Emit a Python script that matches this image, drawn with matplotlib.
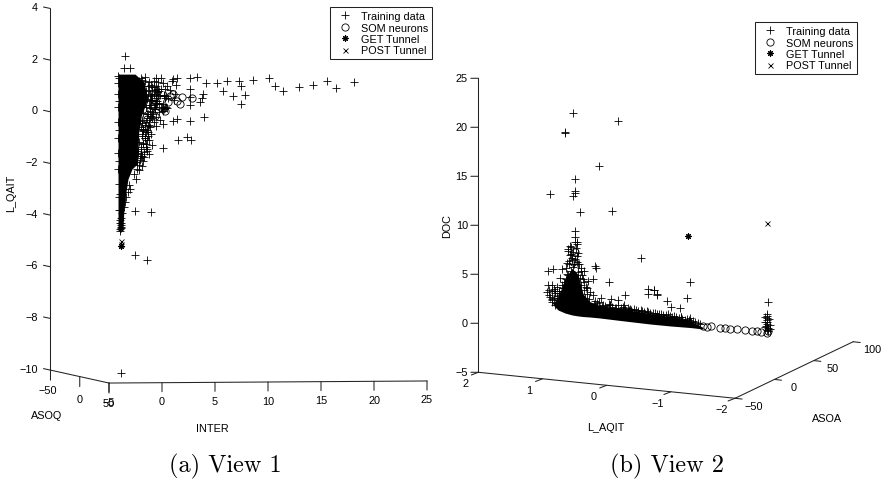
"""Two views of the SOM training data, with hand-drawn 3D style axes."""
import matplotlib
matplotlib.use("Agg")
import matplotlib.pyplot as plt
import numpy as np

# ── View 1 data (INTER, L_QAIT) ──────────────────────────────────────────────
train1_x = [-3.49, -3.58, -3.02, -2.01, -1.60, -0.57, -0.09, 1.07, 1.38, 2.64, 3.33, 4.12,
            5.22, 6.10, 7.23, 8.55, 10.13, 10.69, 11.45, 12.96, 14.21, 15.57, 16.38, 18.14,
            7.42, 5.79, 6.73, 7.83, 7.42, 3.90, 3.74, 3.58, 2.64, 2.64, 2.64, 3.96, 2.64,
            1.38, 1.07, 0.06, -0.57, 1.48, 2.33, 2.74, 0.06, -0.97, -1.23, -1.92, -1.45,
            -1.29, -1.29, -1.76, -2.55, -1.04, -2.55, -1.45, -3.87]
train1_y = [2.15, 1.70, 1.70, 1.30, 1.34, 1.30, 1.31, 1.27, 1.30, 1.30, 1.34, 1.10,
            1.10, 1.18, 1.21, 1.25, 1.32, 1.01, 0.79, 0.95, 1.04, 1.19, 0.94, 1.17,
            0.99, 0.79, 0.60, 0.66, 0.29, 0.69, 0.54, 0.37, 0.88, 0.56, 0.26, -0.21, -0.34,
            -0.28, -0.34, -0.47, -0.56, -1.08, -0.96, -1.08, -1.40, -1.27, -1.63, -1.70, -1.50,
            -0.92, -0.79, -0.66, -3.85, -3.88, -5.53, -5.74, -10.11]
# points around the dense column
fringe1_x = [-2.2, -1.9, -1.6, -1.2, -0.8, -0.4, 0.1, 0.5, 0.9, 1.3, -2.0, -1.7, -1.3, -0.9,
             -0.5, -0.1, 0.3, 0.8, 1.2, -1.9, -1.5, -1.1, -0.6, -0.2, 0.2, 0.6, 1.1, -1.8,
             -1.4, -1.0, -0.6, -0.3, 0.1, 0.4, -1.9, -1.5, -1.1, -0.7, -0.3, 0.0, -1.8, -1.4,
             -1.0, -0.6, -0.2, -1.9, -1.5, -1.2, -0.8, -1.8, -1.4, -1.0, -1.9, -1.6, -1.2,
             -1.8, -1.5, -2.0, -1.7, -1.4, -2.0, -1.7, -2.1, -1.8, -2.2, -1.9, -2.4, -2.2,
             -2.6, -2.5, -3.1, -3.0, -3.2, -3.4, -3.5, -3.6, -3.8, -3.87, -3.87, -3.87, -3.9,
             -4.0, -3.95, -3.9, -4.0, -3.95, 0.2, 0.3, 0.35, 0.2, 0.45, -0.1, 0.1, 0.25,
             -1.0, -0.75, -0.55, -0.35, -1.2, -0.95, -0.7, -0.5, -0.25, -1.3, -1.05, -0.8,
             -0.6, -0.4, -1.1, -0.9, -0.65, -0.45, -1.25, -1.0, -0.8, -0.55, -1.15, -0.95,
             -0.7, -1.3, -1.1, -0.85, -1.45, -1.2, -0.95, -1.6, -1.35, -1.1, -1.75, -1.5,
             -1.65, -1.4, -1.75, -1.55, -1.85, -1.65, -1.95, -1.75, -2.05, -1.85, -1.95,
             -2.15, -2.0, -2.3, -2.1, -2.4, -2.25, -4.15, -4.15, -4.15, -4.15, -4.15, -4.15,
             -4.15, -4.15, -4.1, -4.1, -4.1, -4.05, -4.05, -4.05, -4.05, -4.0, -4.0]
fringe1_y = [1.2, 1.25, 1.2, 1.15, 1.2, 1.15, 1.1, 1.0, 1.2, 1.05, 1.0, 1.0, 1.0, 0.95,
             0.9, 0.9, 0.9, 0.85, 0.7, 0.75, 0.8, 0.7, 0.7, 0.65, 0.6, 0.55, 0.45, 0.5,
             0.5, 0.45, 0.4, 0.35, 0.3, 0.2, 0.2, 0.2, 0.15, 0.1, 0.0, 0.15, -0.05, -0.1,
             -0.15, -0.2, -0.3, -0.3, -0.4, -0.5, -0.4, -0.65, -0.7, -0.85, -0.95, -1.0, -1.1,
             -1.25, -1.35, -1.45, -1.55, -1.45, -1.7, -1.75, -1.85, -1.9, -2.05, -2.1, -2.2, -2.25,
             -2.4, -2.6, -2.85, -3.0, -3.1, -3.3, -3.5, -3.7, -3.9, -4.1, -4.3, -4.45, -4.5,
             -4.55, -4.6, -4.4, -4.2, -3.8, 0.65, 0.55, 0.6, 0.1, 0.15, 0.2, 0.05, 0.15,
             1.05, 0.95, 1.0, 0.9, 0.85, 0.8, 0.85, 0.75, 0.8, 0.65, 0.6, 0.65,
             0.55, 0.6, 0.4, 0.45, 0.35, 0.4, 0.25, 0.25, 0.2, 0.3, 0.05, 0.0,
             0.1, -0.1, -0.15, -0.1, -0.25, -0.3, -0.25, -0.5, -0.55, -0.6, -0.75, -0.8,
             -1.0, -1.1, -1.2, -1.25, -0.85, -0.95, -0.6, -0.7, -0.35, -0.45, -1.35,
             -1.15, -1.65, -1.5, -1.8, -1.95, -1.6, 1.4, 1.1, 0.7, 0.2, -0.4, -1.0,
             -1.6, -2.2, -2.8, -3.3, -3.8, 1.3, 0.4, -0.7, -1.9, -3.2, -4.3]
som1_x = [2.80, 1.86, 1.70, 1.07, 0.60, 0.28, -0.19, -0.66, -0.82, -0.66, -1.45, -1.76, 0.75, 1.38]
som1_y = [0.52, 0.56, 0.30, 0.69, 0.37, 0.05, 0.17, -0.15, 0.24, 0.56, -0.28, 0.11, 0.63, 0.43]
get1_x = [-3.84]
get1_y = [-5.18]
post1_x = [-3.84, -3.86]
post1_y = [-4.99, -5.12]
# saturated part of the column, too dense to read single points
core1_y = [1.46, 1.15, 0.5, -0.15, -0.8, -1.44, -2.0, -2.21, -2.60, -3.10, -3.65, -4.54, -4.61]
core1_left = [-4.15, -4.15, -4.15, -4.15, -4.15, -4.15, -4.15, -4.15, -4.15, -4.15, -4.15, -4.15, -4.15]
core1_right = [-2.55, -1.7, -1.35, -1.95, -2.2, -2.25, -2.3, -2.83, -3.21, -3.4, -3.58, -3.68, -3.68]

# ── View 2 data (L_AQIT, DOC) ────────────────────────────────────────────────
train2_x = [0.53, -0.18, 0.65, 0.65, 0.12, 0.49, 0.88, 0.50, 0.50, 0.52, 0.41, -0.09, 0.50, 0.50,
            0.47, 0.57, 0.60, 0.55, 0.58, 0.47, -0.54, 0.18, 0.16, 0.35, 0.70, 0.83, 0.91,
            0.73, 0.29, 0.21, -0.04, 0.91, 0.86, 0.93, 0.81, 0.86, 0.75, -0.65, -0.73, -0.64,
            -0.79, -0.28, 0.09, -0.07, -0.18, 0.18, -0.05, -0.27, -0.36, -1.29, -1.25, -0.94,
            -0.996, -1.14, -0.79, -0.73, -1.15, -1.29, -2.52]
train2_y = [21.46, 20.68, 19.42, 19.5, 16.09, 14.73, 13.23, 13.54, 13.30, 13.03, 11.33, 11.50, 9.39, 8.78,
            8.33, 7.92, 7.41, 7.07, 6.39, 6.22, 6.66, 5.88, 5.64, 5.30, 5.54, 5.54, 5.30,
            4.58, 4.35, 4.52, 4.18, 3.90, 3.90, 3.16, 3.33, 2.48, 2.54, 3.50, 3.43, 2.99,
            2.88, 2.92, 2.58, 2.48, 2.37, 2.31, 1.86, 1.86, 1.46, 4.18, 2.55, 2.31,
            1.70, 1.56, 2.99, 3.4, 0.68, 0.51, 2.14]
# edge of the tower and upper edge of the band
fringe2_x = [0.90, 0.85, 0.80, 0.75, 0.70, 0.88, 0.82, 0.77, 0.72, 0.68, 0.85, 0.78, 0.72, 0.66,
             0.80, 0.74, 0.68, 0.40, 0.35, 0.30, 0.37, 0.31, 0.26, 0.22, 0.34, 0.28, 0.60, 0.57,
             0.54, 0.44, 0.62, 0.58, 0.40, 0.15, 0.05, -0.05, -0.15, -0.25, -0.35, -0.45, -0.55,
             -0.65, -0.75, -0.85, -0.95, -1.05, -1.15, -1.25, -1.35, 0.10, 0.0, -0.10, -0.20,
             -0.30, -0.40, -0.50, -0.60, -0.70, -0.80, -0.90, -1.00, -1.10, -2.50, -2.50, -2.50,
             -2.50, -2.50, -2.48, -2.52, -2.50, -2.51,
             0.62, 0.58, 0.63, 0.56, 0.60, 0.64, 0.57, 0.62, 0.43, 0.40, 0.44, 0.38, 0.42,
             0.46, 0.48, 0.36, 0.33, 0.45, 0.50, 0.55, 0.52, 0.47, 0.54, 0.49, 0.51, 0.53,
             0.20, 0.12, 0.07, 0.02, -0.03, -0.08, -0.13, -0.18, -0.22, -0.28, -0.33, -0.38,
             -0.42, -0.48, -0.53, -0.58, -0.62, -0.68, -0.72, -0.78, -0.82, -0.88, -0.92,
             -0.98, -1.02, -1.08, -1.12, -1.18, -1.22, -1.28, -1.32, -1.38, -1.42, -1.46,
             0.70, 0.66, 0.74, 0.78, 0.82, 0.72, 0.76, 0.68, 0.79, 0.85, 0.90,
             -2.46, -2.54, -2.47, -2.53, -2.50, -2.46, -2.54]
fringe2_y = [3.4, 3.3, 3.1, 3.3, 3.0, 2.7, 2.6, 2.8, 2.6, 3.6, 2.2, 2.1, 2.3, 4.2,
             1.9, 1.8, 1.9, 3.9, 3.4, 3.0, 4.5, 3.6, 3.2, 2.9, 2.6, 2.5, 7.6, 7.0,
             6.7, 6.0, 5.0, 4.6, 5.3, 2.1, 1.9, 1.9, 1.6, 1.7, 1.4, 1.4, 1.3,
             1.2, 1.1, 0.9, 0.9, 0.7, 0.6, 0.4, 0.2, 1.6, 1.5, 1.3, 1.2,
             1.1, 1.0, 0.9, 0.9, 0.7, 0.6, 0.5, 0.4, 0.3, 0.78, 0.55, 0.3,
             0.1, -0.1, -0.3, -0.5, -0.65, -0.8,
             6.2, 6.0, 5.6, 5.3, 4.9, 4.5, 4.2, 3.8, 6.1, 5.6, 5.2, 4.9, 4.6,
             8.1, 7.7, 4.2, 3.7, 7.2, 8.3, 7.8, 7.3, 6.9, 6.5, 6.6, 6.1, 5.7,
             2.0, 2.2, 1.8, 1.75, 2.0, 1.7, 1.6, 1.85, 1.55, 1.5, 1.6, 1.35,
             1.45, 1.25, 1.4, 1.15, 1.25, 1.05, 1.1, 0.95, 0.95, 0.8, 0.8,
             0.75, 0.6, 0.6, 0.5, 0.4, 0.35, 0.3, 0.15, 0.15, 0.0, -0.05,
             3.9, 3.6, 3.1, 3.7, 3.5, 2.9, 2.4, 3.3, 2.1, 2.4, 2.9,
             -0.4, -0.2, 0.15, 0.4, 0.95, 0.6, -0.6]
som2_x = [-1.50, -1.56, -1.63, -1.76, -1.84, -1.92, -2.03, -2.15, -2.26, -2.34, -2.41, -2.49, -2.52, 0.50, 0.52]
som2_y = [-0.31, -0.34, -0.31, -0.45, -0.51, -0.58, -0.62, -0.65, -0.75, -0.79, -0.85, -0.99, -0.75, 7.27, 6.3]
get2_x = [-1.26]
get2_y = [8.95]
post2_x = [-2.50]
post2_y = [10.27]
# saturated band and tower
core2_x = [0.836, 0.759, 0.650, 0.541, 0.447, 0.369, 0.260, 0.104, -0.207, -0.674, -0.986, -1.297, -1.500]
core2_low = [1.87, 1.36, 1.05, 0.85, 0.75, 0.69, 0.64, 0.54, 0.29, -0.07, -0.27, -0.43, -0.58]
core2_high = [2.0, 2.6, 4.6, 5.6, 5.0, 3.0, 2.2, 1.8, 1.5, 1.0, 0.7, 0.25, -0.42]

LABELS = ["Training data", "SOM neurons", "GET Tunnel", "POST Tunnel"]
INTER_TICKS = [-5, 0, 5, 10, 15, 20, 25]
QAIT_TICKS = [-10, -8, -6, -4, -2, 0, 2, 4]
DOC_TICKS = [-5, 0, 5, 10, 15, 20, 25]

W, H = 881, 481
plt.rcParams["font.family"] = ["Liberation Sans", "DejaVu Sans"]
FS = 7.8
LW = 0.75


def minus(v):
    return str(v).replace("-", "\u2212")


def tick(ax, x, y, dx, dy):
    """Short tick from a data point, offset given in pixels."""
    ax.annotate("", xy=(x, y), xytext=(dx, dy), textcoords="offset pixels",
                arrowprops=dict(arrowstyle="-", lw=LW, color="#222222",
                                shrinkA=0, shrinkB=0))


def label(ax, x, y, dx, dy, s, **kw):
    ax.annotate(s, xy=(x, y), xytext=(dx, dy), textcoords="offset pixels",
                ha=kw.pop("ha", "center"), va="center", fontsize=FS, **kw)


def draw_points(ax, tx, ty, sx, sy, gx, gy, px, py):
    h0, = ax.plot(tx, ty, "+", color="black", ms=6.0, mew=0.6, ls="none")
    h1, = ax.plot(sx, sy, "o", mfc="none", mec="black", ms=5.2, mew=0.6, ls="none")
    h2, = ax.plot(gx, gy, marker=(8, 2, 0), color="black", ms=4.4, mew=0.8, ls="none")
    h3, = ax.plot(px, py, "x", color="black", ms=3.6, mew=0.6, ls="none")
    return [h0, h1, h2, h3]


def add_legend(fig, handles, right_px, top_px):
    leg = fig.legend(handles, LABELS, loc="upper right", fontsize=FS,
                     bbox_to_anchor=(right_px / W, 1 - top_px / H),
                     fancybox=False, framealpha=1, edgecolor="#222222",
                     borderpad=0.38, labelspacing=0.13, handletextpad=0.5,
                     handlelength=1.95, borderaxespad=0)
    leg.get_frame().set_linewidth(LW)


fig = plt.figure(figsize=(W / 100, H / 100), dpi=100)

# ── View 1 ───────────────────────────────────────────────────────────────────
ax1 = fig.add_axes([0, 0, 440 / W, 1])
ax1.set_xlim(-15.283, 26.226)
ax1.set_ylim(-14.254, 4.368)
ax1.axis("off")

ax1.fill_betweenx(core1_y, core1_left, core1_right, color="black", lw=0)
h1 = draw_points(ax1, train1_x + fringe1_x, train1_y + fringe1_y, som1_x, som1_y,
                 get1_x, get1_y, post1_x, post1_y)
add_legend(fig, h1, 432, 8)

# vertical axis
zx = -10.52
ax1.plot([zx, zx], [-10, 4], color="#222222", lw=LW)
for v in QAIT_TICKS:
    tick(ax1, zx, v, -7, 1.5)
    label(ax1, zx, v, -12.5, 1.5, minus(v), ha="right")
label(ax1, zx, -3.1, -39, 0, "L_QAIT", rotation=90)

# depth axis and INTER axis along the floor
asoq_x = np.linspace(zx, -5, 3)
asoq_y = np.linspace(-10, -10.5, 3)
ax1.plot(asoq_x, asoq_y, color="#222222", lw=LW)
for x, y, s, dy in zip(asoq_x, asoq_y, ["\u221250", "0", "50"], [-20, -22, -19.5]):
    tick(ax1, x, y, 0, -10)
    label(ax1, x, y, -3 if s != "0" and s != "50" else 0, dy, s)
label(ax1, zx, -10, -4, -45, "ASOQ")

ax1.plot([-5, 25], [-10.5, -10.42], color="#222222", lw=LW)
for v in INTER_TICKS:
    y = -10.5 + (v + 5) / 30 * 0.08
    tick(ax1, v, y, 0, -9)
    label(ax1, v, y, 0, -18.5, minus(v))
label(ax1, 4.75, -10.47, 0, -46, "INTER")

# ── View 2 ───────────────────────────────────────────────────────────────────
ax2 = fig.add_axes([440 / W, 0, 441 / W, 1])
ax2.set_xlim(2.597, -4.273)
ax2.set_ylim(-15.99, 33.09)
ax2.axis("off")

ax2.fill_between(core2_x, core2_low, core2_high, color="black", lw=0)
h2 = draw_points(ax2, train2_x + fringe2_x, train2_y + fringe2_y, som2_x, som2_y,
                 get2_x, get2_y, post2_x, post2_y)
add_legend(fig, h2, 857, 23)

ax2.plot([2, 2], [-5, 25], color="#222222", lw=LW)
for v in DOC_TICKS:
    tick(ax2, 2, v, -7.5, 0)
    label(ax2, 2, v, -10.5, 0, minus(v), ha="right")
label(ax2, 2, 10.0, -31, 0, "DOC", rotation=90)

# floor: L_AQIT from (2, -5) to (-2, -7.65), ASOA from there to the back corner
aqit_x = np.linspace(2, -2, 5)
aqit_y = np.linspace(-5, -7.65, 5)
ax2.plot(aqit_x, aqit_y, color="#222222", lw=LW)
for x, y, v in zip(aqit_x, aqit_y, [2, 1, 0, -1, -2]):
    tick(ax2, x, y, -7, -2.7)
    label(ax2, x, y, -13, -11, minus(v))
label(ax2, 0.02, -6.3, 0, -42, "L_AQIT")

asoa_x = np.linspace(-2, -3.84, 4)
asoa_y = np.linspace(-7.65, -1.88, 4)
ax2.plot(asoa_x, asoa_y, color="#222222", lw=LW)
for x, y, v in zip(asoa_x, asoa_y, [-50, 0, 50, 100]):
    tick(ax2, x, y, 7, -0.8)
    label(ax2, x, y, 19, -7.5, minus(v))
label(ax2, -3.44, -7.4, 0, -22, "ASOA")

# captions
for cx, s in [(225.7, "(a) View 1"), (666.7, "(b) View 2")]:
    fig.text(cx / W, 1 - 466.7 / H, s, family="cmr10", fontsize=17.5, ha="center", va="center")

fig.savefig("out.png", dpi=100)
